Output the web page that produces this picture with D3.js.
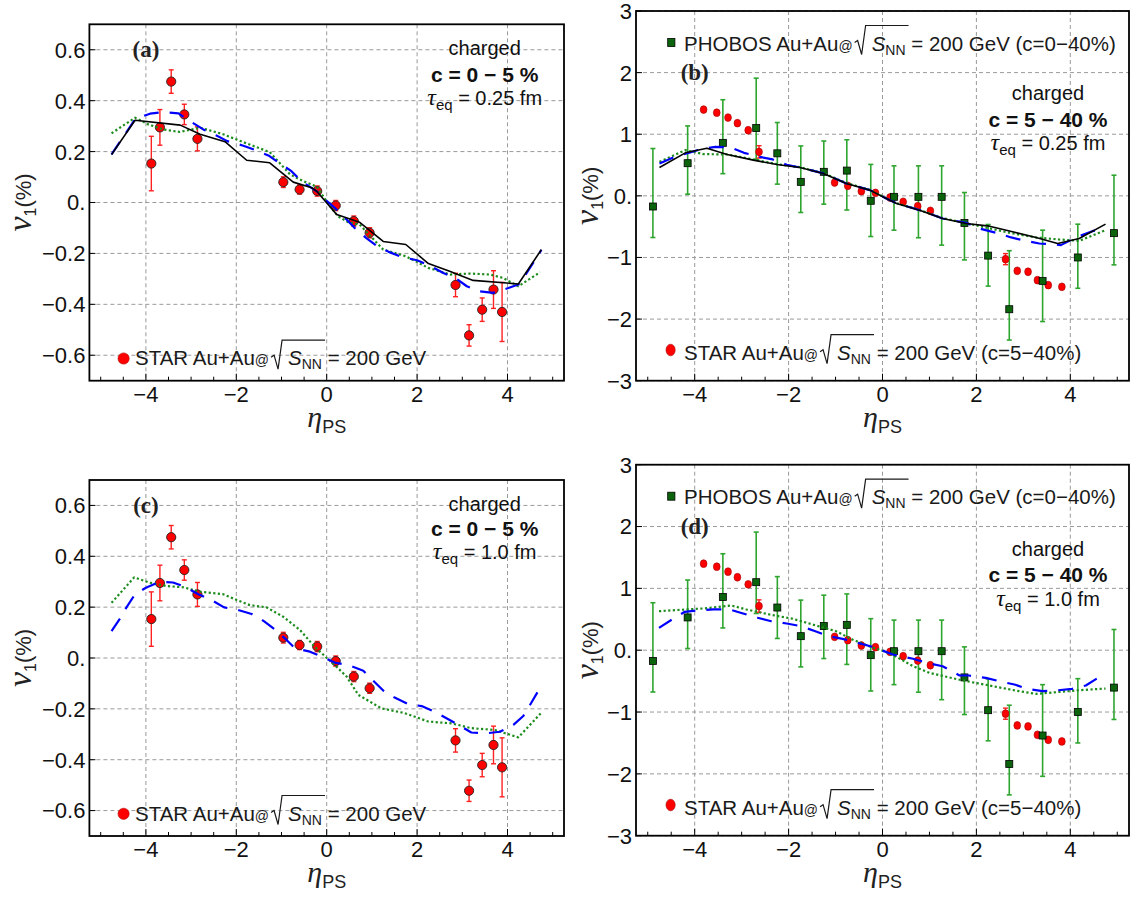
<!DOCTYPE html>
<html><head><meta charset="utf-8">
<script src="https://cdn.jsdelivr.net/npm/d3@7"></script>
<style>body{margin:0;background:#fff}svg{display:block}</style>
</head><body><svg id="c" width="1130" height="898"></svg>
<script>
// ---------------- data ----------------
const etaTicks = [-4, -2, 0, 2, 4];
const etaMinor = d3.range(-5, 5.01, 0.5);
const v1TicksAC = [-0.6, -0.4, -0.2, 0, 0.2, 0.4, 0.6];
const v1TicksBD = [-3, -2, -1, 0, 1, 2, 3];

// STAR Au+Au 200 GeV, c = 0-5 %
const star05Eta = [-3.88, -3.69, -3.44, -3.15, -2.86, -0.96, -0.60, -0.21, 0.20, 0.60, 0.95, 2.85, 3.15, 3.44, 3.69, 3.88];
const star05V1  = [0.153, 0.295, 0.475, 0.346, 0.250, 0.080, 0.051, 0.045, -0.012, -0.073, -0.119, -0.324, -0.522, -0.421, -0.342, -0.430];
const star05Err = [0.107, 0.070, 0.046, 0.040, 0.047, 0.021, 0.018, 0.020, 0.020, 0.020, 0.020, 0.046, 0.042, 0.046, 0.074, 0.116];

// STAR Au+Au 200 GeV, c = 5-40 %
const star540Eta = [-3.81, -3.53, -3.29, -3.09, -2.86, -2.63, -1.02, -0.74, -0.45, -0.15, 0.16, 0.44, 0.75, 1.02, 2.62, 2.87, 3.10, 3.30, 3.53, 3.82];
const star540V1  = [1.40, 1.35, 1.27, 1.18, 1.065, 0.714, 0.216, 0.162, 0.076, 0.049, -0.027, -0.097, -0.168, -0.243, -1.027, -1.216, -1.232, -1.368, -1.449, -1.476];
const star540Err = [0.02, 0.02, 0.02, 0.02, 0.02, 0.10, 0.02, 0.02, 0.02, 0.02, 0.02, 0.02, 0.02, 0.02, 0.09, 0.02, 0.02, 0.02, 0.02, 0.02];

// PHOBOS Au+Au 200 GeV, c = 0-40 %
const phobosEta = [-4.89, -4.15, -3.40, -2.69, -2.24, -1.74, -1.25, -0.76, -0.25, 0.245, 0.765, 1.26, 1.745, 2.25, 2.70, 3.41, 4.16, 4.93];
const phobosV1  = [-0.173, 0.53, 0.86, 1.10, 0.69, 0.227, 0.39, 0.41, -0.08, -0.016, -0.016, -0.016, -0.44, -0.97, -1.84, -1.38, -1.00, -0.605];
const phobosHi  = [0.768, 1.135, 1.56, 1.91, 1.19, 0.81, 0.89, 0.91, 0.51, 0.487, 0.487, 0.487, 0.054, -0.465, -0.89, -0.557, -0.46, 0.335];
const phobosLo  = [-0.676, 0.027, 0.36, 0.594, 0.19, -0.27, -0.135, -0.23, -0.66, -0.557, -0.68, -0.80, -1.04, -1.465, -2.34, -2.04, -1.50, -1.12];

// model curves, panel (a): c=0-5%, tau_eq=0.25 fm
const blackAEta = [-4.76, -4.24, -3.24, -2.8, -2.25, -1.77, -1.26, -0.74, -0.33, -0.22, 0.22, 0.73, 1.25, 1.75, 2.25, 2.72, 3.24, 4.24, 4.75];
const blackAV1  = [0.188, 0.323, 0.304, 0.268, 0.239, 0.166, 0.156, 0.080, 0.058, 0.044, -0.047, -0.078, -0.153, -0.165, -0.240, -0.270, -0.306, -0.320, -0.185];
const blueAEta = [-4.76, -4.24, -3.91, -3.6, -3.28, -3.03, -2.73, -2.45, -2.2, -1.86, -1.61, -1.29, -1.03, -0.78, -0.56, -0.22, -0.04, 0.18, 0.44, 0.62, 0.87, 1.1, 1.4, 1.66, 2.0, 2.28, 2.58, 2.84, 3.1, 3.39, 3.68, 4.02, 4.27, 4.75];
const blueAV1  = [0.189, 0.327, 0.349, 0.355, 0.350, 0.320, 0.287, 0.264, 0.241, 0.224, 0.208, 0.185, 0.153, 0.123, 0.084, 0.044, 0.012, -0.021, -0.067, -0.100, -0.139, -0.169, -0.196, -0.214, -0.227, -0.248, -0.277, -0.296, -0.329, -0.349, -0.355, -0.336, -0.320, -0.186];
const greenAEta = [-4.76, -4.24, -3.95, -3.62, -3.25, -2.8, -2.29, -1.77, -1.26, -0.81, -0.52, -0.22, 0.07, 0.25, 0.47, 0.73, 1.25, 1.75, 2.25, 2.73, 3.17, 3.61, 3.9, 4.24, 4.72];
const greenAV1  = [0.272, 0.333, 0.307, 0.287, 0.277, 0.294, 0.268, 0.232, 0.198, 0.110, 0.084, 0.062, -0.014, -0.054, -0.077, -0.087, -0.185, -0.211, -0.257, -0.283, -0.279, -0.283, -0.296, -0.329, -0.274];

// panel (c): c=0-5%, tau_eq=1.0 fm
const blueCEta = [-4.76, -4.57, -4.43, -4.24, -4.0, -3.69, -3.4, -3.14, -2.84, -2.52, -2.27, -1.96, -1.66, -1.39, -1.15, -0.9, -0.7, -0.37, -0.11, 0.18, 0.49, 0.81, 1.01, 1.25, 1.49, 1.80, 2.1, 2.39, 2.65, 2.95, 3.2, 3.54, 3.83, 4.13, 4.35, 4.52, 4.77];
const blueCV1  = [0.106, 0.156, 0.199, 0.251, 0.276, 0.300, 0.297, 0.280, 0.251, 0.225, 0.199, 0.189, 0.173, 0.145, 0.113, 0.073, 0.038, 0.025, 0.005, -0.018, -0.028, -0.050, -0.086, -0.128, -0.154, -0.181, -0.189, -0.211, -0.237, -0.267, -0.293, -0.296, -0.290, -0.263, -0.228, -0.178, -0.102];
const greenCEta = [-4.76, -4.26, -3.91, -3.54, -3.17, -2.81, -2.29, -1.99, -1.70, -1.33, -0.96, -0.59, -0.3, 0.0, 0.18, 0.44, 0.70, 1.21, 1.73, 2.25, 2.76, 3.2, 3.72, 4.24, 4.75];
const greenCV1  = [0.217, 0.317, 0.296, 0.283, 0.278, 0.261, 0.251, 0.228, 0.208, 0.199, 0.162, 0.110, 0.051, 0.0, -0.028, -0.073, -0.145, -0.198, -0.217, -0.250, -0.257, -0.276, -0.283, -0.312, -0.215];

// panel (b): c=5-40%, tau_eq=0.25 fm
const blackBEta = [-4.75, -4.2, -3.74, -3.31, -2.75, -2.25, -1.76, -1.26, -0.77, -0.27, 0.08, 0.3, 0.79, 1.28, 1.78, 2.28, 2.77, 3.27, 3.73, 4.19, 4.75];
const blackBV1  = [0.461, 0.698, 0.774, 0.672, 0.580, 0.509, 0.461, 0.364, 0.201, 0.093, -0.042, -0.123, -0.232, -0.367, -0.448, -0.492, -0.584, -0.675, -0.773, -0.692, -0.459];
const blueBEta = [-4.75, -4.45, -4.13, -3.85, -3.56, -3.24, -2.95, -2.62, -2.34, -2.04, -1.76, -1.26, -0.77, -0.27, 0.08, 0.3, 0.79, 1.28, 1.78, 2.06, 2.42, 2.74, 2.98, 3.34, 3.62, 3.8, 4.12, 4.47, 4.6];
const blueBV1  = [0.526, 0.623, 0.698, 0.763, 0.795, 0.786, 0.698, 0.633, 0.591, 0.503, 0.461, 0.364, 0.201, 0.093, -0.042, -0.123, -0.232, -0.367, -0.438, -0.529, -0.600, -0.675, -0.719, -0.773, -0.784, -0.800, -0.675, -0.573, -0.550];
const greenBEta = [-4.75, -4.2, -3.81, -3.31, -2.75, -2.25, -1.76, -1.26, -0.77, -0.27, 0.08, 0.3, 0.79, 1.28, 1.75, 2.28, 2.77, 3.27, 3.76, 4.19, 4.75];
const greenBV1  = [0.552, 0.742, 0.677, 0.672, 0.590, 0.515, 0.465, 0.370, 0.208, 0.098, -0.040, -0.120, -0.228, -0.362, -0.438, -0.529, -0.610, -0.675, -0.708, -0.730, -0.557];

// panel (d): c=5-40%, tau_eq=1.0 fm
const blueDEta = [-4.76, -4.46, -4.21, -3.9, -3.6, -3.26, -2.97, -2.66, -2.37, -2.04, -1.74, -1.43, -1.15, -0.85, -0.53, -0.21, -0.06, 0.22, 0.65, 1.0, 1.28, 1.64, 1.84, 2.2, 2.49, 2.81, 3.09, 3.41, 3.69, 4.04, 4.33, 4.61];
const blueDV1  = [0.362, 0.508, 0.621, 0.647, 0.659, 0.659, 0.594, 0.524, 0.469, 0.432, 0.388, 0.307, 0.227, 0.184, 0.120, 0.055, 0.011, -0.070, -0.139, -0.215, -0.259, -0.409, -0.409, -0.447, -0.502, -0.555, -0.625, -0.663, -0.652, -0.625, -0.571, -0.437];
const greenDEta = [-4.76, -4.18, -3.82, -3.54, -3.22, -2.9, -2.41, -1.91, -1.49, -0.99, -0.64, -0.29, 0.03, 0.3, 0.65, 1.0, 1.36, 1.71, 2.06, 2.42, 2.91, 3.27, 3.69, 4.19, 4.75];
const greenDV1  = [0.631, 0.659, 0.675, 0.696, 0.723, 0.659, 0.578, 0.508, 0.416, 0.307, 0.173, 0.065, -0.016, -0.107, -0.259, -0.366, -0.430, -0.490, -0.539, -0.592, -0.663, -0.706, -0.680, -0.647, -0.620];

// ---------------- drawing ----------------
const SANS = '"Liberation Sans", Arial, Helvetica, sans-serif';
const SERIF = '"Liberation Serif", "Times New Roman", serif';
const svg = d3.select('#c');

const styles = {
  black: {stroke: '#000', width: 1.6, dash: null},
  blue:  {stroke: '#0000ff', width: 2.2, dash: '15,11'},
  green: {stroke: '#1c8c1c', width: 2.2, dash: '2.2,2.4'}
};

const panels = [
  {tag: '(a)', box: [89.4, 24.3, 564, 380.7], ydom: [-0.7, 0.7], yticks: v1TicksAC, tagY: 0.6,
   cent: 'c = 0 \u2212 5 %', tau: '0.25', annot: [79.3, 30.7, 57.4, 80.7],
   curves: [[greenAEta, greenAV1, 'green'], [blueAEta, blueAV1, 'blue'], [blackAEta, blackAV1, 'black']],
   star: [star05Eta, star05V1, star05Err], phobos: false, xlabY: 433, ylabX: 31},
  {tag: '(b)', box: [636, 11, 1129, 380.7], ydom: [-3, 3], yticks: v1TicksBD, tagY: 2,
   cent: 'c = 5 \u2212 40 %', tau: '0.25', annot: [81, 89, 115.7, 139],
   curves: [[greenBEta, greenBV1, 'green'], [blueBEta, blueBV1, 'blue'], [blackBEta, blackBV1, 'black']],
   star: [star540Eta, star540V1, star540Err], phobos: true, xlabY: 433, ylabX: 598},
  {tag: '(c)', box: [89.4, 480, 564, 836], ydom: [-0.7, 0.7], yticks: v1TicksAC, tagY: 0.6,
   cent: 'c = 0 \u2212 5 %', tau: '1.0', annot: [79.3, 30.7, 56, 79],
   curves: [[greenCEta, greenCV1, 'green'], [blueCEta, blueCV1, 'blue']],
   star: [star05Eta, star05V1, star05Err], phobos: false, xlabY: 888, ylabX: 31},
  {tag: '(d)', box: [636, 464.7, 1129, 835.7], ydom: [-3, 3], yticks: v1TicksBD, tagY: 2,
   cent: 'c = 5 \u2212 40 %', tau: '1.0', annot: [81, 91, 117.6, 141],
   curves: [[greenDEta, greenDV1, 'green'], [blueDEta, blueDV1, 'blue']],
   star: [star540Eta, star540V1, star540Err], phobos: true, xlabY: 888, ylabX: 598}
];

function fmtY(d) {
  if (d === 0) return '0.';
  return (d < 0 ? '\u2212' : '') + String(Math.abs(d));
}

function legendText(g, x, y, prefix, suffix) {
  const t1 = g.append('text').attr('x', x).attr('y', y)
    .attr('font-family', SANS).attr('font-size', 20.5).attr('fill', '#1a1a1a');
  t1.append('tspan').text(prefix);
  t1.append('tspan').attr('font-size', 14).text('@');
  const rx = x + t1.node().getComputedTextLength() + 2;
  const t2 = g.append('text').attr('x', rx + 17).attr('y', y)
    .attr('font-family', SANS).attr('font-size', 20.5).attr('fill', '#1a1a1a');
  const s = t2.append('tspan').attr('font-style', 'italic').text('S');
  const nn = t2.append('tspan').attr('font-size', 14).attr('dy', 4).text('NN');
  t2.append('tspan').attr('dy', -4).text(' = 200 GeV' + suffix);
  const ox = rx + 17 + s.node().getComputedTextLength() + nn.node().getComputedTextLength() + 3;
  g.append('path')
    .attr('d', `M${rx},${y - 8} L${rx + 3},${y - 10} L${rx + 7},${y + 4} L${rx + 11},${y - 25} L${ox},${y - 25}`)
    .attr('fill', 'none').attr('stroke', '#1a1a1a').attr('stroke-width', 1.2);
}

panels.forEach(p => {
  const [L, T, R, B] = p.box;
  const x = d3.scaleLinear().domain([-5.25, 5.25]).range([L, R]);
  const y = d3.scaleLinear().domain(p.ydom).range([B, T]);
  const g = svg.append('g');

  // grid
  g.selectAll('.vg').data(etaTicks).join('line')
    .attr('x1', d => x(d)).attr('x2', d => x(d)).attr('y1', T).attr('y2', B)
    .attr('stroke', '#9a9a9a').attr('stroke-width', 1).attr('stroke-dasharray', '4,3');
  g.selectAll('.hg').data(p.yticks).join('line')
    .attr('y1', d => y(d)).attr('y2', d => y(d)).attr('x1', L).attr('x2', R)
    .attr('stroke', '#9a9a9a').attr('stroke-width', 1).attr('stroke-dasharray', '4,3');

  // PHOBOS error bars
  if (p.phobos) {
    const eb = g.append('g').attr('stroke', '#2ea52e').attr('stroke-width', 1.6);
    phobosEta.forEach((e, i) => {
      eb.append('line').attr('x1', x(e)).attr('x2', x(e)).attr('y1', y(phobosHi[i])).attr('y2', y(phobosLo[i]));
      eb.append('line').attr('x1', x(e) - 2.5).attr('x2', x(e) + 2.5).attr('y1', y(phobosHi[i])).attr('y2', y(phobosHi[i]));
      eb.append('line').attr('x1', x(e) - 2.5).attr('x2', x(e) + 2.5).attr('y1', y(phobosLo[i])).attr('y2', y(phobosLo[i]));
    });
  }

  // STAR points
  const [se, sv, serr] = p.star;
  const sb = g.append('g').attr('stroke', '#ff2020').attr('stroke-width', 1.4);
  se.forEach((e, i) => {
    sb.append('line').attr('x1', x(e)).attr('x2', x(e)).attr('y1', y(sv[i] + serr[i])).attr('y2', y(sv[i] - serr[i]));
    sb.append('line').attr('x1', x(e) - 2.5).attr('x2', x(e) + 2.5).attr('y1', y(sv[i] + serr[i])).attr('y2', y(sv[i] + serr[i]));
    sb.append('line').attr('x1', x(e) - 2.5).attr('x2', x(e) + 2.5).attr('y1', y(sv[i] - serr[i])).attr('y2', y(sv[i] - serr[i]));
  });
  if (p.phobos) {
    g.selectAll('.sp').data(se).join('ellipse')
      .attr('cx', d => x(d)).attr('cy', (d, i) => y(sv[i])).attr('rx', 3.4).attr('ry', 3.9)
      .attr('fill', '#ff0000').attr('stroke', '#a00000').attr('stroke-width', 0.6);
    // PHOBOS squares
    g.selectAll('.pp').data(phobosEta).join('rect')
      .attr('x', d => x(d) - 3.5).attr('y', (d, i) => y(phobosV1[i]) - 3.5).attr('width', 7).attr('height', 7)
      .attr('fill', '#0b640b').attr('stroke', '#000').attr('stroke-width', 0.8);
  } else {
    g.selectAll('.sp').data(se).join('circle')
      .attr('cx', d => x(d)).attr('cy', (d, i) => y(sv[i])).attr('r', 4.6)
      .attr('fill', '#ff0000').attr('stroke', '#222').attr('stroke-width', 0.9);
  }

  // curves
  p.curves.forEach(([ex, vy, st]) => {
    const s = styles[st];
    const line = d3.line().x(d => x(d[0])).y(d => y(d[1]));
    g.append('path').attr('d', line(ex.map((e, i) => [e, vy[i]])))
      .attr('fill', 'none').attr('stroke', s.stroke).attr('stroke-width', s.width)
      .attr('stroke-dasharray', s.dash).attr('stroke-linejoin', 'round');
  });

  // frame
  g.append('rect').attr('x', L).attr('y', T).attr('width', R - L).attr('height', B - T)
    .attr('fill', 'none').attr('stroke', '#000').attr('stroke-width', 1.8);

  // ticks
  g.selectAll('.mt').data(etaMinor).join('line')
    .attr('x1', d => x(d)).attr('x2', d => x(d)).attr('y1', B)
    .attr('y2', d => B - (etaTicks.includes(d) ? 7 : 4))
    .attr('stroke', '#000').attr('stroke-width', 1);
  g.selectAll('.yt').data(p.yticks).join('line')
    .attr('x1', L).attr('x2', L + 6).attr('y1', d => y(d)).attr('y2', d => y(d))
    .attr('stroke', '#000').attr('stroke-width', 1);

  // tick labels
  g.selectAll('.xl').data(etaTicks).join('text')
    .attr('x', d => x(d)).attr('y', B + 21).attr('text-anchor', 'middle')
    .attr('font-family', SANS).attr('font-size', 22).attr('fill', '#111')
    .text(d => (d < 0 ? '\u2212' : '') + Math.abs(d));
  g.selectAll('.yl').data(p.yticks).join('text')
    .attr('x', L - 4).attr('y', d => y(d)).attr('dy', '0.36em').attr('text-anchor', 'end')
    .attr('font-family', SANS).attr('font-size', 22).attr('fill', '#111')
    .text(fmtY);

  // axis labels
  const xl = g.append('text').attr('x', (L + R) / 2).attr('y', p.xlabY).attr('text-anchor', 'middle')
    .attr('fill', '#222');
  xl.append('tspan').attr('font-family', SERIF).attr('font-style', 'italic').attr('font-size', 30).attr('dy', -6).text('\u03b7');
  xl.append('tspan').attr('font-family', SANS).attr('font-size', 18).attr('dy', 6).text('PS');

  const yl = g.append('text').attr('transform', `translate(${p.ylabX},${(T + B) / 2}) rotate(-90)`)
    .attr('text-anchor', 'middle').attr('fill', '#222').attr('font-family', SANS);
  yl.append('tspan').attr('font-family', SERIF).attr('font-style', 'italic').attr('font-size', 34).text('v');
  yl.append('tspan').attr('font-size', 16).attr('dy', 5).text('1');
  yl.append('tspan').attr('font-size', 22).attr('dy', -5).text('(%)');

  // panel tag
  g.append('text').attr('x', x(-4)).attr('y', y(p.tagY)).attr('dy', '0.33em').attr('text-anchor', 'middle')
    .attr('font-family', SERIF).attr('font-weight', 'bold').attr('font-size', 23).attr('fill', '#222').text(p.tag);

  // annotation
  const [ax, b1, b2, b3] = p.annot;
  const cx = R - ax;
  g.append('text').attr('x', cx).attr('y', T + b1).attr('text-anchor', 'middle')
    .attr('font-family', SANS).attr('font-size', 20).attr('fill', '#111').text('charged');
  g.append('text').attr('x', cx).attr('y', T + b2).attr('text-anchor', 'middle')
    .attr('font-family', SANS).attr('font-weight', 'bold').attr('font-size', 21).attr('fill', '#111').text(p.cent);
  const tt = g.append('text').attr('x', cx).attr('y', T + b3).attr('text-anchor', 'middle')
    .attr('font-family', SANS).attr('font-size', 20).attr('fill', '#111');
  tt.append('tspan').attr('font-family', SERIF).attr('font-style', 'italic').attr('font-size', 24).text('\u03c4');
  tt.append('tspan').attr('font-size', 15).attr('dy', 5).text('eq');
  tt.append('tspan').attr('dy', -5).text(' = ' + p.tau + ' fm');

  // legends
  if (p.phobos) {
    g.append('rect').attr('x', L + 35.3 - 3.6).attr('y', T + 31.5 - 4).attr('width', 7.2).attr('height', 8)
      .attr('fill', '#0b640b').attr('stroke', '#000').attr('stroke-width', 0.8);
    legendText(g, L + 48, T + 39.5, 'PHOBOS Au+Au', ' (c=0\u221240%)');
    g.append('ellipse').attr('cx', L + 34.6).attr('cy', B - 30.7).attr('rx', 4.6).attr('ry', 5.8)
      .attr('fill', '#ff0000').attr('stroke', '#a00000').attr('stroke-width', 0.6);
    legendText(g, L + 48, B - 21, 'STAR Au+Au', ' (c=5\u221240%)');
  } else {
    g.append('circle').attr('cx', L + 34.2).attr('cy', B - 22.2).attr('r', 5.6)
      .attr('fill', '#ff0000').attr('stroke', '#b00000').attr('stroke-width', 0.6);
    legendText(g, L + 45.6, B - 15.5, 'STAR Au+Au', '');
  }
});
</script>
</body></html>
